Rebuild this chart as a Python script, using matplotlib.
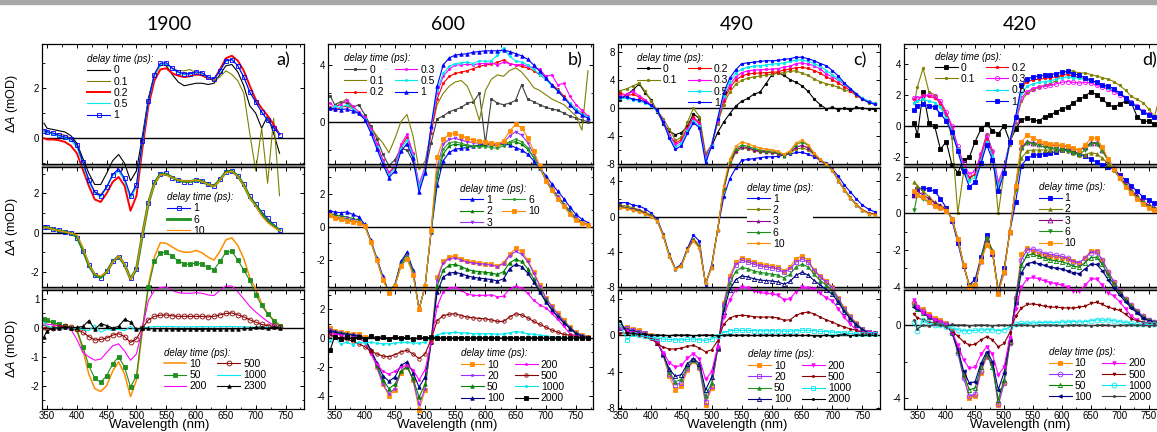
import matplotlib
matplotlib.use('Agg')
import matplotlib.pyplot as plt
from matplotlib.ticker import MultipleLocator
from matplotlib.patches import Rectangle
from matplotlib.lines import Line2D

plt.rcParams['font.family'] = ['Liberation Sans', 'DejaVu Sans']
plt.rcParams['mathtext.fontset'] = 'custom'
plt.rcParams['mathtext.rm'] = 'Liberation Sans'
plt.rcParams['mathtext.it'] = 'Liberation Sans:italic'
plt.rcParams['axes.unicode_minus'] = False

# wavelength grids (nm)
WL_A = [345] + list(range(350, 741, 10))
WL_B = [343] + list(range(350, 771, 10))
WL_C = [348] + list(range(360, 771, 10))
WL_D = [345] + list(range(350, 771, 10))

# ---- panel a (pump 1900) ----
a_0 = [0.6, 0.4, 0.35, 0.3, 0.25, 0.1, -0.2, -0.8, -1.4, -1.85,
       -1.85, -1.4, -0.9, -0.65, -1.0, -1.7, -1.3, 0.1, 1.6, 2.55,
       2.95, 2.9, 2.55, 2.25, 2.1, 2.15, 2.2, 2.2, 2.15, 2.2,
       2.55, 2.9, 2.95, 2.65, 2.1, 1.3, 1.0, 0.4, 0.9, 0.2,
       -0.6]
a_01 = [0.25, 0.22, 0.2, 0.18, 0.12, 0.0, -0.3, -1.0, -1.7, -2.15,
        -2.25, -1.95, -1.5, -1.3, -1.7, -2.4, -1.9, -0.1, 1.5, 2.5,
        2.9, 2.95, 2.8, 2.7, 2.7, 2.75, 2.6, 2.5, 2.4, 2.3,
        2.45, 2.7, 2.55, 2.3, 1.8, 0.2, -1.3, 0.4, -1.8, 0.8,
        -2.3]
a_02 = [0.0, -0.05, -0.05, -0.08, -0.15, -0.3, -0.6, -1.25, -1.9, -2.45,
        -2.55, -2.2, -1.75, -1.55, -1.9, -2.9, -2.3, -0.4, 1.3, 2.3,
        2.75, 2.8, 2.6, 2.5, 2.45, 2.48, 2.55, 2.52, 2.4, 2.35,
        2.75, 3.2, 3.3, 3.1, 2.7, 2.1, 1.55, 1.2, 0.9, 0.55,
        0.15]
a_05 = [0.25, 0.22, 0.15, 0.08, 0.02, -0.1, -0.35, -1.05, -1.75, -2.2,
        -2.35, -2.0, -1.5, -1.3, -1.7, -2.4, -1.95, -0.2, 1.45, 2.5,
        2.95, 2.98, 2.78, 2.62, 2.55, 2.56, 2.63, 2.6, 2.43, 2.36,
        2.68, 3.08, 3.13, 2.9, 2.45, 1.85, 1.45, 1.05, 0.72, 0.42,
        0.15]
a_1 = [0.3, 0.27, 0.2, 0.12, 0.05, -0.02, -0.25, -0.95, -1.65, -2.15,
       -2.3, -1.95, -1.45, -1.22, -1.6, -2.3, -1.85, -0.1, 1.5, 2.55,
       3.0, 3.02, 2.8, 2.65, 2.58, 2.58, 2.66, 2.62, 2.45, 2.38,
       2.7, 3.1, 3.15, 2.9, 2.45, 1.85, 1.45, 1.05, 0.72, 0.42,
       0.15]
a_6 = [0.28, 0.26, 0.18, 0.1, 0.04, -0.03, -0.2, -0.85, -1.65, -2.15,
       -2.28, -2.0, -1.48, -1.2, -1.62, -2.35, -1.85, -0.1, 1.5, 2.5,
       2.97, 2.97, 2.8, 2.66, 2.6, 2.6, 2.67, 2.61, 2.45, 2.37,
       2.68, 3.08, 3.13, 2.88, 2.42, 1.8, 1.4, 0.95, 0.6, 0.35,
       0.12]
a_10 = [0.27, 0.25, 0.17, 0.1, 0.04, -0.03, -0.1, -0.75, -1.6, -2.1,
        -2.2, -2.0, -1.5, -1.17, -1.6, -2.38, -1.8, -0.08, 1.5, 2.45,
        2.95, 2.93, 2.8, 2.68, 2.62, 2.62, 2.68, 2.6, 2.45, 2.35,
        2.65, 3.05, 3.12, 2.85, 2.4, 1.75, 1.35, 0.85, 0.5, 0.28,
        0.1]
a_50 = [0.3, 0.27, 0.2, 0.12, 0.05, 0.0, -0.05, -0.65, -1.3, -1.75,
        -1.88, -1.65, -1.25, -1.0, -1.35, -2.05, -1.65, 0.0, 1.4, 2.3,
        2.6, 2.62, 2.48, 2.32, 2.22, 2.2, 2.25, 2.2, 2.1, 2.02,
        2.3, 2.62, 2.65, 2.35, 2.0, 1.65, 1.15, 0.78, 0.48, 0.25,
        0.08]
a_200 = [0.15, 0.13, 0.1, 0.08, 0.03, -0.05, -0.4, -0.85, -1.0, -1.12,
         -1.08, -0.85, -0.62, -0.55, -0.8, -1.12, -0.9, 0.0, 0.95, 1.3,
         1.4, 1.42, 1.3, 1.22, 1.2, 1.2, 1.22, 1.2, 1.14, 1.12,
         1.3, 1.45, 1.45, 1.25, 1.0, 0.75, 0.55, 0.38, 0.22, 0.1,
         0.03]
a_500 = [0.02, 0.0, 0.0, 0.02, 0.05, 0.03, -0.05, -0.15, -0.3, -0.42,
         -0.4, -0.35, -0.25, -0.2, -0.3, -0.5, -0.38, 0.0, 0.28, 0.4,
         0.44, 0.45, 0.42, 0.4, 0.4, 0.4, 0.4, 0.4, 0.38, 0.4,
         0.45, 0.5, 0.52, 0.45, 0.38, 0.28, 0.2, 0.12, 0.08, 0.05,
         0.02]
a_1000 = [0.2, 0.05, 0.0, 0.0, 0.0, 0.0, -0.02, -0.05, -0.1, 0.1,
          -0.15, -0.05, -0.08, -0.05, -0.1, 0.05, -0.12, 0.0, 0.03, 0.05,
          0.05, 0.05, 0.05, 0.04, 0.04, 0.04, 0.04, 0.05, 0.04, 0.04,
          0.05, 0.05, 0.05, 0.04, 0.04, 0.03, 0.02, 0.02, 0.02, 0.02,
          0.02]
a_2300 = [-0.3, -0.1, 0.0, 0.0, 0.02, 0.0, 0.02, 0.05, 0.25, -0.05,
          0.15, 0.08, 0.0, 0.05, 0.3, 0.2, -0.05, 0.0, -0.02, -0.03,
          -0.03, -0.03, -0.04, -0.05, -0.05, -0.04, -0.05, -0.05, -0.04, -0.05,
          -0.04, -0.03, -0.04, -0.03, -0.02, -0.01, 0.02, 0.03, -0.02, 0.03,
          0.0]

# ---- panel b (pump 600) ----
b_0 = [1.8, 1.2, 1.4, 1.3, 1.0, 1.2, 0.5, -0.3, -1.2, -2.3,
       -3.1, -2.7, -1.9, -2.0, -2.8, -4.5, -3.6, -1.5, 0.2, 0.4,
       0.7, 0.85, 1.0, 1.3, 1.4, 2.0, -1.5, 1.6, 1.3, 1.2,
       1.3, 1.5, 2.6, 1.6, 1.4, 1.2, 1.0, 0.9, 0.8, 0.6,
       0.4, 0.25, 0.1, 0.0]
b_01 = [0.8, 1.0, 1.3, 1.6, 1.0, 0.5, 0.2, -0.4, -1.0, -1.5,
        -2.2, -1.2, 0.0, 0.5, -1.0, -3.4, -2.8, -0.7, 1.2, 2.0,
        2.5, 2.8, 2.9, 2.5, 1.5, 0.1, 2.2, 3.0, 3.3, 3.2,
        3.6, 3.8, 3.5, 3.0, 2.4, 2.2, 1.9, 1.6, 1.4, 1.2,
        0.8, 0.4, -0.6, 3.6]
b_02 = [1.0, 0.8, 1.0, 1.1, 0.9, 0.6, 0.3, -0.5, -1.6, -2.7,
        -3.6, -3.2, -1.8, -1.1, -2.3, -4.6, -3.5, -0.8, 1.6, 2.7,
        3.2, 3.4, 3.5, 3.6, 3.75, 3.9, 4.0, 4.05, 4.2, 4.35,
        4.1, 4.0, 3.9, 3.8, 3.6, 3.3, 3.0, 2.6, 2.3, 1.8,
        1.3, 0.9, 0.6, 0.35]
b_03 = [1.3, 1.0, 1.2, 1.5, 1.1, 0.7, 0.3, -0.5, -1.6, -2.7,
        -3.6, -3.1, -1.6, -0.9, -2.2, -4.4, -3.2, -0.5, 2.0, 3.2,
        3.7, 4.0, 4.0, 4.05, 4.0, 4.1, 4.1, 4.15, 4.0, 4.2,
        4.1, 4.0, 4.05, 3.9, 3.8, 3.7, 3.2, 3.3, 2.6, 2.7,
        1.8, 1.2, 0.8, 0.4]
b_05 = [0.9, 1.1, 1.0, 1.2, 0.9, 0.6, 0.2, -0.7, -1.8, -2.9,
        -3.8, -3.3, -1.9, -1.3, -2.4, -4.6, -3.4, -0.4, 2.2, 3.4,
        3.9, 4.1, 4.15, 4.2, 4.1, 4.3, 4.25, 4.3, 4.7, 5.2,
        4.6, 4.3, 4.2, 4.0, 3.7, 3.3, 3.0, 2.5, 2.2, 1.7,
        1.3, 0.9, 0.55, 0.35]
b_1 = [0.95, 0.9, 0.85, 0.9, 0.75, 0.6, 0.15, -0.8, -1.9, -3.0,
       -3.95, -3.5, -2.1, -1.55, -2.6, -5.0, -3.6, -0.3, 2.5, 4.0,
       4.5, 4.7, 4.75, 4.8, 4.9, 4.95, 5.0, 5.0, 5.0, 5.05,
       4.95, 4.8, 4.65, 4.4, 4.0, 3.55, 3.1, 2.6, 2.15, 1.7,
       1.2, 0.75, 0.45, 0.25]
b_2 = [0.8, 0.7, 0.65, 0.6, 0.5, 0.4, 0.1, -0.85, -1.95, -3.1,
       -3.95, -3.5, -2.2, -1.65, -2.7, -5.0, -3.6, -0.3, 3.0, 4.4,
       4.9, 5.0, 4.95, 4.9, 4.9, 4.9, 4.95, 4.95, 4.9, 5.0,
       5.1, 5.15, 5.0, 4.7, 4.2, 3.6, 2.9, 2.35, 1.85, 1.4,
       0.95, 0.55, 0.3, 0.15]
b_3 = [0.7, 0.6, 0.55, 0.5, 0.4, 0.3, 0.05, -0.9, -2.0, -3.1,
       -4.0, -3.6, -2.3, -1.8, -2.8, -5.0, -3.6, -0.25, 3.6, 5.0,
       5.3, 5.35, 5.25, 5.15, 5.1, 5.05, 5.05, 5.0, 4.95, 5.1,
       5.5, 5.75, 5.55, 5.1, 4.4, 3.6, 2.85, 2.3, 1.8, 1.3,
       0.85, 0.5, 0.25, 0.12]
b_6 = [0.65, 0.55, 0.5, 0.45, 0.35, 0.28, 0.05, -0.9, -2.0, -3.15,
       -4.0, -3.6, -2.35, -1.85, -2.85, -5.0, -3.6, -0.25, 3.2, 4.7,
       5.1, 5.15, 5.05, 4.95, 4.9, 4.85, 4.85, 4.8, 4.75, 4.9,
       5.15, 5.3, 5.15, 4.8, 4.2, 3.55, 2.8, 2.2, 1.7, 1.25,
       0.8, 0.45, 0.22, 0.1]
b_10 = [0.7, 0.5, 0.45, 0.35, 0.3, 0.25, 0.05, -0.9, -2.0, -3.2,
        -4.0, -3.6, -2.4, -1.95, -2.9, -5.0, -3.6, -0.2, 4.2, 5.3,
        5.6, 5.65, 5.5, 5.35, 5.25, 5.2, 5.15, 5.1, 5.0, 5.2,
        5.8, 6.2, 6.0, 5.4, 4.6, 3.7, 2.8, 2.2, 1.7, 1.25,
        0.75, 0.4, 0.2, 0.1]
b_20 = [0.6, 0.5, 0.4, 0.3, 0.25, 0.2, 0.0, -0.9, -2.0, -3.2,
        -3.85, -3.5, -2.3, -1.95, -2.9, -4.6, -3.5, -0.3, 4.0, 5.2,
        5.5, 5.55, 5.4, 5.25, 5.2, 5.15, 5.1, 5.05, 4.95, 5.15,
        5.7, 6.0, 5.8, 5.3, 4.5, 3.6, 2.8, 2.2, 1.65, 1.2,
        0.75, 0.4, 0.2, 0.1]
b_50 = [0.5, 0.45, 0.35, 0.3, 0.2, 0.15, -0.05, -0.85, -1.9, -2.9,
        -3.5, -3.2, -2.3, -2.0, -2.8, -4.1, -3.2, -0.3, 3.6, 4.7,
        5.05, 5.1, 4.95, 4.75, 4.65, 4.6, 4.55, 4.5, 4.4, 4.6,
        5.2, 5.45, 5.3, 4.8, 4.1, 3.3, 2.6, 2.0, 1.5, 1.1,
        0.7, 0.35, 0.15, 0.08]
b_100 = [0.5, 0.4, 0.3, 0.25, 0.2, 0.1, -0.1, -0.8, -1.7, -2.6,
         -3.0, -2.7, -1.9, -1.65, -2.4, -3.4, -2.7, -0.3, 3.2, 4.2,
         4.5, 4.55, 4.45, 4.3, 4.2, 4.15, 4.1, 4.05, 3.95, 4.1,
         4.8, 5.1, 4.95, 4.5, 3.9, 3.2, 2.5, 1.95, 1.45, 1.05,
         0.65, 0.3, 0.12, 0.05]
b_200 = [0.3, 0.3, 0.2, 0.1, 0.05, 0.0, -0.3, -1.1, -1.8, -2.3,
         -2.5, -2.3, -2.0, -1.9, -2.2, -2.9, -2.2, -0.3, 2.2, 3.2,
         3.45, 3.5, 3.3, 3.05, 2.95, 2.95, 2.95, 3.0, 2.85, 2.9,
         3.4, 3.6, 3.45, 3.1, 2.6, 2.3, 2.1, 1.7, 1.3, 0.8,
         0.3, 0.15, 0.08, 0.05]
b_500 = [0.2, 0.1, 0.0, -0.1, -0.2, -0.4, -0.6, -0.9, -1.1, -1.25,
         -1.3, -1.15, -0.96, -0.85, -1.1, -1.42, -1.1, -0.1, 1.2, 1.55,
         1.65, 1.68, 1.55, 1.45, 1.4, 1.35, 1.33, 1.25, 1.15, 1.15,
         1.45, 1.68, 1.6, 1.4, 1.15, 0.95, 0.75, 0.55, 0.4, 0.25,
         0.2, 0.08, 0.03, 0.0]
b_1000 = [-0.2, 0.1, -0.4, -0.3, -0.45, -0.3, -0.35, -0.3, -0.35, -0.4,
          -0.4, -0.35, -0.3, -0.3, -0.35, -0.35, -0.3, 0.0, 0.2, 0.35,
          0.35, 0.4, 0.35, 0.35, 0.3, 0.3, 0.3, 0.3, 0.25, 0.3,
          0.35, 0.45, 0.4, 0.3, 0.25, 0.2, 0.15, 0.1, 0.05, 0.02,
          0.0, 0.0, 0.0, 0.0]
b_2000 = [-0.8, 0.1, -0.1, 0.05, -0.05, 0.1, -0.1, 0.15, 0.0, 0.1,
          -0.05, 0.1, 0.0, 0.05, -0.1, 0.05, 0.0, 0.05, 0.0, 0.02,
          -0.02, 0.0, 0.03, -0.02, 0.0, 0.02, 0.0, 0.03, -0.02, 0.0,
          0.02, 0.0, -0.02, 0.0, 0.02, 0.0, 0.0, -0.02, 0.0, -0.03,
          -0.02, 0.0, 0.02, 0.0]

# ---- panel c (pump 490) ----
c_0 = [1.2, 2.0, 2.6, 3.5, 2.2, 1.2, -0.5, -2.2, -3.3, -3.8,
       -3.5, -2.6, -0.8, -1.5, -7.0, -5.5, -3.5, -2.0, -0.8, 0.3,
       1.0, 1.4, 2.0, 2.3, 3.5, 4.8, 5.1, 4.7, 4.1, 3.7,
       3.2, 2.4, 1.3, 0.5, -0.1, 0.1, -0.2, 0.0, -0.3, 0.1,
       0.0, -0.1, -0.2]
c_01 = [2.5, 2.8, 3.2, 3.6, 2.4, 1.0, -0.3, -1.5, -3.0, -4.6,
        -4.2, -2.0, 0.0, -1.2, -6.5, -5.3, -2.2, 0.5, 2.3, 3.4,
        4.0, 4.3, 4.5, 4.6, 4.75, 4.9, 5.0, 5.1, 5.3, 5.35,
        5.0, 4.7, 4.2, 3.8, 3.5, 3.3, 3.0, 2.6, 2.4, 1.8,
        1.3, 0.8, 0.6]
c_02 = [2.2, 1.8, 2.0, 1.6, 1.0, 0.4, -0.4, -2.0, -3.8, -5.0,
        -4.5, -2.8, -1.3, -2.1, -7.0, -5.2, -1.9, 1.0, 2.9, 4.0,
        4.6, 4.9, 5.0, 5.05, 5.1, 5.15, 5.2, 5.5, 5.6, 5.8,
        5.85, 5.7, 5.4, 5.0, 4.5, 4.1, 3.6, 3.1, 2.5, 1.9,
        1.3, 1.0, 0.7]
c_03 = [1.8, 2.0, 2.4, 1.8, 1.2, 0.5, -0.3, -1.8, -3.8, -5.2,
        -4.8, -3.0, -1.5, -2.3, -7.2, -5.3, -1.8, 1.4, 3.3, 4.5,
        5.1, 5.35, 5.45, 5.5, 5.55, 5.6, 5.65, 5.9, 6.0, 6.4,
        6.5, 6.3, 6.1, 5.6, 4.9, 4.5, 4.0, 3.4, 2.7, 2.0,
        1.4, 1.0, 0.7]
c_05 = [1.4, 1.4, 1.2, 1.0, 0.8, 0.3, -0.4, -2.0, -4.1, -5.6,
        -5.0, -3.3, -1.8, -2.6, -7.5, -5.3, -1.6, 1.8, 3.8, 5.0,
        5.6, 5.9, 6.0, 6.1, 6.2, 6.3, 6.4, 6.5, 6.7, 6.9,
        6.95, 6.7, 6.4, 6.0, 5.4, 4.8, 4.2, 3.5, 2.8, 2.1,
        1.4, 1.0, 0.7]
c_1 = [1.6, 1.6, 1.3, 1.2, 0.9, 0.4, -0.3, -2.0, -4.3, -5.9,
       -5.4, -3.6, -2.1, -2.8, -7.8, -5.5, -1.5, 2.2, 4.3, 5.5,
       6.4, 6.5, 6.6, 6.7, 6.8, 6.8, 6.85, 7.0, 7.1, 7.3,
       7.3, 7.1, 6.8, 6.4, 6.1, 5.4, 4.6, 3.6, 2.8, 2.0,
       1.3, 0.85, 0.55]
c_2 = [1.3, 1.2, 1.0, 0.8, 0.5, 0.15, -0.4, -2.1, -4.4, -5.9,
       -5.5, -3.7, -2.5, -3.3, -7.6, -5.7, -1.5, 3.0, 5.8, 7.3,
       7.8, 7.7, 7.5, 7.35, 7.3, 7.25, 7.15, 6.9, 7.2, 7.7,
       7.8, 7.6, 7.0, 6.4, 5.9, 5.3, 4.2, 3.1, 2.2, 1.4,
       0.8, 0.45, 0.3]
c_3 = [1.2, 1.0, 0.9, 0.7, 0.4, 0.1, -0.45, -2.15, -4.45, -5.95,
       -5.55, -3.75, -2.6, -3.45, -7.6, -5.75, -1.5, 3.2, 6.0, 7.5,
       7.95, 7.85, 7.6, 7.45, 7.4, 7.35, 7.2, 6.9, 7.3, 7.9,
       8.1, 7.8, 7.1, 6.4, 5.9, 5.3, 4.1, 3.0, 2.1, 1.35,
       0.75, 0.4, 0.25]
c_6 = [1.1, 0.95, 0.8, 0.6, 0.35, 0.05, -0.5, -2.2, -4.5, -6.0,
       -5.6, -3.8, -2.7, -3.5, -7.6, -5.8, -1.5, 3.3, 6.2, 7.7,
       8.15, 8.0, 7.75, 7.6, 7.5, 7.45, 7.3, 6.95, 7.4, 8.2,
       8.5, 8.1, 7.2, 6.5, 5.9, 5.3, 4.1, 3.0, 2.1, 1.3,
       0.7, 0.35, 0.2]
c_10 = [1.0, 0.9, 0.7, 0.55, 0.3, 0.0, -0.5, -2.2, -4.5, -6.0,
        -5.6, -3.8, -2.8, -3.6, -7.6, -5.8, -1.5, 3.5, 6.5, 8.0,
        8.5, 8.3, 8.0, 7.8, 7.7, 7.6, 7.45, 7.1, 7.5, 8.4,
        8.7, 8.2, 7.2, 6.5, 6.0, 5.3, 4.1, 3.0, 2.1, 1.3,
        0.7, 0.35, 0.2]
c_20 = [1.0, 0.8, 0.6, 0.4, 0.2, -0.1, -0.6, -2.2, -4.2, -5.45,
        -5.2, -3.6, -2.7, -3.5, -7.27, -5.6, -1.5, 3.3, 6.2, 7.7,
        8.2, 8.05, 7.8, 7.6, 7.5, 7.4, 7.25, 6.9, 7.3, 8.0,
        8.35, 8.0, 7.1, 6.4, 5.8, 5.2, 4.0, 2.9, 2.0, 1.25,
        0.7, 0.35, 0.2]
c_50 = [0.9, 0.7, 0.5, 0.35, 0.15, -0.15, -0.7, -2.2, -4.0, -5.1,
        -4.8, -3.4, -2.7, -3.4, -6.7, -5.2, -1.5, 3.0, 5.7, 7.0,
        7.45, 7.3, 7.05, 6.9, 6.8, 6.7, 6.6, 6.3, 6.7, 7.5,
        7.8, 7.5, 6.7, 6.0, 5.5, 4.9, 3.8, 2.8, 1.9, 1.2,
        0.65, 0.3, 0.2]
c_100 = [0.8, 0.6, 0.45, 0.3, 0.1, -0.2, -0.8, -2.1, -3.7, -4.5,
         -4.3, -3.1, -2.55, -3.1, -6.0, -4.6, -1.4, 2.6, 5.0, 6.1,
         6.5, 6.4, 6.2, 6.05, 6.0, 5.95, 5.85, 5.6, 5.9, 6.6,
         6.9, 6.6, 6.0, 5.5, 5.0, 4.5, 3.6, 2.6, 1.8, 1.1,
         0.6, 0.3, 0.2]
c_200 = [0.8, 0.5, 0.3, 0.1, -0.1, -0.3, -0.8, -1.9, -3.0, -3.46,
         -3.3, -2.5, -2.0, -2.6, -4.83, -4.0, -1.3, 2.0, 3.9, 5.0,
         5.3, 5.2, 4.9, 4.7, 4.6, 4.55, 4.4, 3.9, 4.0, 4.8,
         5.27, 5.2, 5.1, 4.6, 4.1, 3.8, 2.9, 1.97, 1.2, 0.6,
         0.3, 0.2, 0.1]
c_500 = [0.3, 0.2, 0.1, 0.0, -0.2, -0.4, -0.9, -1.3, -1.5, -1.5,
         -1.4, -1.2, -1.1, -1.4, -1.8, -1.6, -0.6, 1.2, 1.9, 2.15,
         2.2, 2.15, 2.05, 2.0, 2.0, 2.0, 1.9, 1.65, 1.7, 2.2,
         2.45, 2.55, 2.35, 2.0, 1.7, 1.45, 1.15, 0.9, 0.7, 0.55,
         0.3, 0.15, 0.1]
c_1000 = [1.2, -0.5, 0.1, 0.0, -0.1, -0.2, -0.3, -0.4, -0.45, -0.5,
          -0.5, -0.45, -0.4, -0.5, -0.55, -0.4, -0.1, 0.3, 0.5, 0.55,
          0.55, 0.55, 0.5, 0.5, 0.5, 0.5, 0.48, 0.45, 0.45, 0.5,
          0.55, 0.55, 0.5, 0.45, 0.4, 0.35, 0.3, 0.25, 0.2, 0.15,
          0.1, 0.1, 0.1]
c_2000 = [1.6, 0.3, 0.2, 0.1, 0.1, 0.0, 0.05, 0.0, -0.05, 0.05,
          0.0, 0.05, -0.05, 0.0, 0.05, 0.0, -0.05, 0.0, 0.05, 0.0,
          0.02, 0.0, -0.02, 0.0, 0.02, 0.0, -0.02, 0.0, 0.02, 0.0,
          -0.02, 0.0, -0.05, -0.1, 0.05, -0.1, 0.0, 0.1, -0.05, 0.05,
          0.0, 0.05, 0.0]

# ---- panel d (pump 420) ----
d_0 = [0.2, -0.6, 2.2, 0.2, 0.0, -1.5, -1.0, -2.5, -3.0, -2.2,
       -2.0, -1.0, -0.2, 0.1, -0.3, -0.5, 0.0, -1.0, -0.2, 0.4,
       0.5, 0.4, 0.3, 0.6, 0.7, 0.9, 1.1, 1.2, 1.5, 1.7,
       1.9, 2.2, 2.0, 1.7, 1.4, 1.2, 1.4, 1.6, 1.5, 0.6,
       0.3, 0.3, 0.1, 0.0]
d_01 = [1.5, 2.5, 3.7, 2.2, 2.0, 1.4, 0.6, -0.8, -5.6, -3.0,
        -3.4, -3.1, -1.8, -0.5, -1.6, -5.6, -3.0, -1.2, 0.2, 1.6,
        2.1, 2.3, 2.5, 2.6, 2.7, 2.9, 3.3, 3.6, 3.5, 3.4,
        3.4, 3.3, 3.2, 3.1, 3.0, 2.85, 2.6, 2.3, 1.9, 1.7,
        1.5, 1.1, 0.6, 2.0]
d_02 = [1.7, 1.6, 2.0, 1.9, 1.8, 1.5, 0.8, -0.1, -1.4, -2.6,
        -3.3, -3.1, -2.0, -0.8, -1.8, -3.8, -2.8, -1.0, 0.5, 2.5,
        2.85, 2.95, 3.0, 3.05, 3.1, 3.15, 3.25, 3.3, 3.2, 3.1,
        3.0, 2.9, 2.75, 2.6, 2.45, 2.3, 2.1, 1.85, 1.55, 1.25,
        0.95, 0.75, 0.6, 0.5]
d_03 = [1.8, 1.8, 1.9, 2.0, 1.9, 1.6, 0.9, 0.0, -1.3, -2.4,
        -3.1, -2.9, -1.8, -0.6, -1.6, -3.6, -2.6, -1.0, 0.3, 1.8,
        2.2, 2.4, 2.5, 2.55, 2.6, 2.7, 2.8, 2.85, 2.8, 2.75,
        2.8, 2.75, 2.6, 2.5, 2.35, 2.2, 2.0, 1.8, 1.55, 1.25,
        0.95, 0.75, 0.6, 0.5]
d_05 = [1.5, 1.6, 1.7, 1.6, 1.5, 1.2, 0.5, -0.3, -1.5, -2.7,
        -3.5, -3.3, -2.2, -1.0, -1.9, -3.9, -2.8, -1.0, 0.5, 2.1,
        2.55, 2.7, 2.8, 2.85, 2.9, 3.0, 3.1, 3.15, 3.1, 3.05,
        3.0, 2.9, 2.75, 2.6, 2.45, 2.3, 2.1, 1.85, 1.55, 1.25,
        0.95, 0.75, 0.6, 0.5]
d_1 = [1.0, 1.3, 1.4, 1.3, 1.2, 0.8, 0.3, -0.4, -1.6, -2.9,
       -3.9, -3.6, -2.4, -1.2, -2.2, -4.2, -3.0, -1.0, 0.6, 2.6,
       3.0, 3.15, 3.2, 3.25, 3.3, 3.35, 3.45, 3.5, 3.35, 3.25,
       3.1, 2.95, 2.8, 2.65, 2.55, 2.4, 2.1, 1.8, 1.5, 1.2,
       0.9, 0.7, 0.55, 0.45]
d_2 = [1.7, 1.5, 1.2, 0.9, 0.6, 0.45, 0.25, -0.3, -1.4, -2.8,
       -3.9, -3.8, -2.5, -1.3, -2.0, -4.2, -3.1, -1.0, 1.3, 3.0,
       3.4, 3.45, 3.45, 3.45, 3.45, 3.45, 3.45, 3.4, 3.3, 3.2,
       3.2, 3.3, 3.25, 3.0, 2.7, 2.35, 1.95, 1.55, 1.2, 0.9,
       0.6, 0.4, 0.3, 0.2]
d_3 = [1.0, 1.2, 1.0, 0.8, 0.55, 0.4, 0.2, -0.3, -1.4, -2.8,
       -4.0, -3.9, -2.6, -1.4, -2.1, -4.3, -3.2, -1.0, 1.5, 3.6,
       3.9, 3.85, 3.8, 3.75, 3.72, 3.7, 3.68, 3.62, 3.5, 3.45,
       3.6, 3.85, 3.85, 3.45, 2.9, 2.45, 2.0, 1.6, 1.25, 0.95,
       0.65, 0.45, 0.3, 0.22]
d_6 = [0.2, 1.0, 0.8, 0.6, 0.4, 0.3, 0.15, -0.3, -1.4, -2.8,
       -4.0, -3.9, -2.6, -1.4, -2.1, -4.3, -3.2, -1.0, 1.4, 3.5,
       3.85, 3.8, 3.7, 3.6, 3.55, 3.5, 3.48, 3.42, 3.3, 3.2,
       3.45, 3.8, 3.8, 3.4, 2.85, 2.35, 1.9, 1.5, 1.15, 0.85,
       0.55, 0.35, 0.22, 0.15]
d_10 = [1.2, 1.0, 0.9, 0.6, 0.4, 0.3, 0.15, -0.3, -1.4, -2.8,
        -4.0, -3.9, -2.6, -1.75, -2.1, -4.4, -3.2, -1.0, 1.5, 3.9,
        4.25, 4.1, 3.95, 3.85, 3.8, 3.75, 3.72, 3.65, 3.55, 3.45,
        3.7, 4.1, 4.1, 3.6, 2.95, 2.4, 1.9, 1.45, 1.1, 0.8,
        0.5, 0.3, 0.2, 0.15]
d_20 = [1.2, 1.0, 0.8, 0.5, 0.3, 0.2, 0.05, -0.4, -1.5, -2.9,
        -3.9, -3.8, -2.5, -1.7, -2.1, -4.35, -3.2, -1.0, 1.5, 3.6,
        4.15, 4.2, 4.1, 3.95, 3.9, 3.85, 3.8, 3.7, 3.5, 3.45,
        3.7, 4.0, 4.05, 3.6, 2.95, 2.4, 1.9, 1.45, 1.1, 0.8,
        0.5, 0.3, 0.2, 0.15]
d_50 = [1.1, 0.9, 0.7, 0.45, 0.3, 0.2, 0.0, -0.4, -1.4, -2.7,
        -3.55, -3.45, -2.3, -1.6, -2.3, -4.1, -3.0, -0.9, 1.4, 3.3,
        3.85, 3.92, 3.8, 3.7, 3.6, 3.55, 3.5, 3.4, 3.25, 3.2,
        3.45, 3.73, 3.75, 3.35, 2.75, 2.25, 1.8, 1.4, 1.05, 0.75,
        0.45, 0.28, 0.18, 0.12]
d_100 = [1.0, 0.9, 0.7, 0.45, 0.3, 0.15, 0.0, -0.4, -1.3, -2.5,
         -3.19, -3.1, -2.1, -1.45, -2.0, -3.55, -2.6, -0.8, 1.2, 2.9,
         3.4, 3.46, 3.4, 3.3, 3.2, 3.15, 3.1, 3.0, 2.9, 2.85,
         3.1, 3.37, 3.35, 3.0, 2.5, 2.05, 1.65, 1.3, 0.95, 0.7,
         0.4, 0.25, 0.15, 0.1]
d_200 = [1.4, 1.0, 0.7, 0.5, 0.3, 0.2, 0.0, -0.35, -1.1, -1.9,
         -2.37, -2.3, -1.6, -1.18, -1.6, -2.73, -2.3, -0.7, 0.9, 2.1,
         2.55, 2.64, 2.55, 2.45, 2.35, 2.3, 2.2, 2.1, 1.9, 1.9,
         2.2, 2.55, 2.55, 2.2, 1.8, 1.6, 1.3, 0.9, 0.5, 0.3,
         0.15, 0.1, 0.05, 0.05]
d_500 = [0.6, 0.4, 0.3, 0.2, 0.1, 0.05, -0.1, -0.3, -0.6, -0.9,
         -1.09, -1.05, -0.8, -0.63, -0.8, -1.18, -1.0, -0.4, 0.5, 0.95,
         1.15, 1.18, 1.12, 1.05, 1.0, 1.0, 0.97, 0.95, 0.95, 1.0,
         1.05, 1.2, 1.27, 1.15, 1.0, 0.9, 0.82, 0.6, 0.36, 0.25,
         0.18, 0.1, 0.05, 0.0]
d_1000 = [0.2, -0.3, 0.3, 0.1, 0.0, 0.0, -0.1, -0.15, -0.25, -0.3,
          -0.3, -0.28, -0.25, -0.25, -0.25, -0.3, -0.25, -0.1, 0.05, 0.1,
          0.12, 0.12, 0.15, 0.15, 0.15, 0.15, 0.18, 0.18, 0.2, 0.18,
          0.2, 0.25, 0.3, 0.28, 0.3, 0.25, 0.2, 0.15, 0.1, 0.05,
          0.05, 0.05, 0.05, 0.05]
d_2000 = [0.3, -0.2, 0.0, -0.05, 0.05, 0.0, -0.05, 0.05, 0.0, 0.03,
          -0.03, 0.0, 0.02, 0.0, -0.02, 0.0, 0.02, 0.0, 0.0, 0.02,
          0.0, -0.02, 0.0, 0.02, 0.0, 0.0, -0.02, 0.0, 0.02, 0.0,
          0.0, -0.02, 0.0, 0.02, 0.0, -0.02, 0.0, 0.0, 0.02, 0.0,
          0.0, -0.02, 0.0, 0.0]

TITLES = ['1900', '600', '490', '420']
LETTERS = ['a)', 'b)', 'c)', 'd)']

# colours
K, OL, RD, CY, BL = '#000000', '#808000', '#ff0000', '#00e8f0', '#0000ff'
GR, OR, MG, DR, NV = '#1f8f1f', '#ff8c00', '#ff00ff', '#8b0000', '#000080'
VI, PU, DG = '#9b30ff', '#8b008b', '#404040'


def st(c, m='None', ms=2.5, open_=False, lw=0.8):
    return dict(color=c, marker=m, ms=ms, mfc='none' if open_ else c,
                mec=c, mew=0.6, lw=lw)


W, H = 1157, 432
COLS_X = [(42, 304), (328, 593), (618, 880), (904, 1166)]
ROWS_Y = [(44, 164), (166.5, 287), (289.5, 408.5)]

panels = [
    dict(wl=WL_A, xlim=(341.5, 781), label_x=0.947, xlab=159,
         rows=[
             dict(ylim=(-1.03, 3.77), major=2, minor=1, leg=dict(anchor=(0.153, 0.96), ncol=1),
                  series=[('0', a_0, st(K)), ('0.1', a_01, st(OL)), ('0.2', a_02, st(RD, lw=1.4)),
                          ('0.5', a_05, st(CY)), ('1', a_1, st(BL, 's', 3, True))]),
             dict(ylim=(-2.76, 3.36), major=2, minor=1, leg=dict(anchor=(0.458, 0.83), ncol=1),
                  series=[('1', a_1, st(BL, 's', 3, True)), ('6', a_6, st(GR, lw=2)),
                          ('10', a_10, st(OR))]),
             dict(ylim=(-2.79, 1.33), major=1, minor=0.5, leg=dict(anchor=(0.444, 0.555), ncol=2),
                  series=[('10', a_10, st(OR, lw=1.1)), ('50', a_50, st(GR, 's', 2.5)),
                          ('200', a_200, st(MG)), ('500', a_500, st(DR, 'o', 3.5, True)),
                          ('1000', a_1000, st(CY)), ('2300', a_2300, st(K, '^', 2.5))]),
         ]),
    dict(wl=WL_B, xlim=(339.1, 778.3), label_x=0.962, xlab=447,
         rows=[
             dict(ylim=(-2.99, 5.48), major=4, minor=2, leg=dict(anchor=(0.039, 0.965), ncol=2),
                  series=[('0', b_0, st(DG, 's', 2)), ('0.1', b_01, st(OL)),
                          ('0.2', b_02, st(RD, '.', 3)), ('0.3', b_03, st(MG, '.', 3)),
                          ('0.5', b_05, st(CY, '.', 3)), ('1', b_1, st(BL, '^', 2.5))]),
             dict(ylim=(-3.65, 3.65), major=2, minor=1, leg=dict(anchor=(0.479, 0.9), ncol=2),
                  series=[('1', b_1, st(BL, '^', 2.5)), ('2', b_2, st('#008000', '^', 2)),
                          ('3', b_3, st(VI, 'v', 2)), ('6', b_6, st('#2e9b2e', '.', 3)),
                          ('10', b_10, st(OR, 's', 2.5))]),
             dict(ylim=(-4.88, 3.36), major=2, minor=1, leg=dict(anchor=(0.482, 0.55), ncol=2),
                  series=[('10', b_10, st(OR, 's', 2.5)), ('20', b_20, st(VI, '.', 3)),
                          ('50', b_50, st('#008000', '^', 2.5)), ('100', b_100, st(NV, '^', 2.5)),
                          ('200', b_200, st(MG, '.', 3)), ('500', b_500, st(DR, 'o', 2.5, True)),
                          ('1000', b_1000, st(CY, '.', 3)), ('2000', b_2000, st(K, 's', 2.5))]),
         ]),
    dict(wl=WL_C, xlim=(345, 779), label_x=0.95, xlab=737,
         rows=[
             dict(ylim=(-8.0, 9.2), major=4, minor=2, leg=dict(anchor=(0.052, 0.97), ncol=2, blanks=2),
                  series=[('0', c_0, st(K, '.', 3.5)), ('0.1', c_01, st(OL, '.', 3.5)),
                          ('0.2', c_02, st(RD, '.', 3.5)), ('0.3', c_03, st(MG, '.', 3.5)),
                          ('0.5', c_05, st(CY, '.', 3.5)), ('1', c_1, st(BL, '.', 3.5))]),
             dict(ylim=(-8.0, 5.7), major=4, minor=2, leg=dict(anchor=(0.472, 0.91), ncol=1, frame=True),
                  series=[('1', c_1, st(BL, '.', 3.5)), ('2', c_2, st(OL, '.', 3.5)),
                          ('3', c_3, st(PU, '^', 2)), ('6', c_6, st(GR, '^', 2)),
                          ('10', c_10, st(OR, '.', 3.5))]),
             dict(ylim=(-8.02, 5.02), major=4, minor=2, leg=dict(anchor=(0.476, 0.54), ncol=2),
                  series=[('10', c_10, st(OR, 's', 2.5)), ('20', c_20, st(VI, 's', 3, True)),
                          ('50', c_50, st(GR, '^', 2.5)), ('100', c_100, st(NV, '^', 3, True)),
                          ('200', c_200, st(MG, 'v', 2.5)), ('500', c_500, st(DR, '.', 3)),
                          ('1000', c_1000, st(CY, 's', 3, True)), ('2000', c_2000, st(K, '.', 3))]),
         ]),
    dict(wl=WL_D, xlim=(327.0, 780.0), label_x=0.966, xlab=1020,
         rows=[
             dict(ylim=(-2.44, 5.26), major=2, minor=1, leg=dict(anchor=(0.097, 0.98), ncol=2, blanks=2),
                  series=[('0', d_0, st(K, 's', 2.5)), ('0.1', d_01, st(OL, '.', 3.5)),
                          ('0.2', d_02, st(RD, '.', 3.5)), ('0.3', d_03, st(MG, 'o', 3, True)),
                          ('0.5', d_05, st(CY, '.', 3.5)), ('1', d_1, st(BL, 's', 2.5))]),
             dict(ylim=(-4.02, 2.55), major=2, minor=1, leg=dict(anchor=(0.494, 0.915), ncol=1),
                  series=[('1', d_1, st(BL, 's', 2.5)), ('2', d_2, st(OL, '^', 2.5)),
                          ('3', d_3, st(PU, '^', 3.5, True)), ('6', d_6, st(GR, 'v', 2.5)),
                          ('10', d_10, st(OR, 's', 2.5))]),
             dict(ylim=(-4.58, 1.97), major=4, minor=2, leg=dict(anchor=(0.532, 0.56), ncol=2),
                  series=[('10', d_10, st(OR, 's', 2.5)), ('20', d_20, st(VI, 'o', 3.5, True)),
                          ('50', d_50, st('#008000', '^', 3, True)), ('100', d_100, st(NV, '<', 2.5)),
                          ('200', d_200, st(MG, 'v', 2.5)), ('500', d_500, st(DR, 'v', 2)),
                          ('1000', d_1000, st(CY, 'o', 3.5, True)), ('2000', d_2000, st(DG, '.', 3))]),
         ]),
]


def box(x0, x1, y0, y1):
    return [x0 / W, 1 - y1 / H, (x1 - x0) / W, (y1 - y0) / H]


fig = plt.figure(figsize=(W / 100, H / 100), dpi=100)

# grey strip at the top of the image
fig.add_artist(Rectangle((0, 1 - 4 / H), 1, 4 / H, transform=fig.transFigure,
                         color='#a8a8a8', zorder=-2))

for ci, p in enumerate(panels):
    x0, x1 = COLS_X[ci]
    # grey separators between the stacked rows
    for s0, s1 in [(164, 166.5), (287, 289.5)]:
        fig.add_artist(Rectangle((x0 / W, 1 - s1 / H), (x1 - x0) / W, (s1 - s0) / H,
                                 transform=fig.transFigure, color='#8a8a8a', zorder=-1))
    for ri, row in enumerate(p['rows']):
        y0, y1 = ROWS_Y[ri]
        ax = fig.add_axes(box(x0, x1, y0, y1))
        ax.set_facecolor('none')
        ax.axhline(0, color='k', lw=1.0, zorder=1.5)
        for lab, vals, style in row['series']:
            ax.plot(p['wl'], vals, label=lab, clip_on=False, **style)
        ax.set_xlim(*p['xlim'])
        ax.set_ylim(*row['ylim'])
        ax.xaxis.set_major_locator(MultipleLocator(50))
        ax.xaxis.set_minor_locator(MultipleLocator(25))
        ax.yaxis.set_major_locator(MultipleLocator(row['major']))
        ax.yaxis.set_minor_locator(MultipleLocator(row['minor']))
        ax.tick_params(which='both', direction='in', top=True, right=True, labelsize=7, pad=2)
        ax.tick_params(which='major', length=3, width=0.7)
        ax.tick_params(which='minor', length=1.8, width=0.6)
        if ri < 2:
            ax.tick_params(labelbottom=False)
        for sp in ax.spines.values():
            sp.set_linewidth(0.9)

        lg = row['leg']
        h, l = ax.get_legend_handles_labels()
        if lg.get('blanks'):
            for _ in range(lg['blanks']):
                h.insert(2, Line2D([], [], alpha=0))
                l.insert(2, '')
        leg = ax.legend(h, l, loc='upper left', bbox_to_anchor=lg['anchor'], ncol=lg['ncol'],
                        title='delay time (ps):', fontsize=7.5,
                        title_fontproperties={'style': 'italic', 'size': 7},
                        frameon=lg.get('frame', False), borderpad=0.0, handlelength=2.2,
                        handletextpad=0.3, labelspacing=0.12, columnspacing=1.0,
                        alignment='left')
        if lg.get('frame'):
            leg.get_frame().set_facecolor('white')
            leg.get_frame().set_edgecolor('none')
            leg.get_frame().set_alpha(1)
        leg.set_zorder(5)

        if ri == 0:
            ax.text(p['label_x'], 0.86, LETTERS[ci], transform=ax.transAxes, ha='right',
                    va='center', fontsize=13, family=['Lato', 'DejaVu Sans'])
        if ci == 0:
            fig.text(12 / W, 1 - ((y0 + y1) / 2) / H, r'$\Delta\mathit{A}$ (mOD)',
                     rotation=90, ha='center', va='center', fontsize=9)

    fig.text(((x0 + x1) / 2 + [-4, -13, -12, -15][ci]) / W, 1 - 25 / H, TITLES[ci],
             ha='center', va='center', fontsize=14, family=['Lato', 'DejaVu Sans'])
    fig.text(p['xlab'] / W, 1 - 425 / H, 'Wavelength (nm)', ha='center', va='center',
             fontsize=9.5)

fig.savefig('out.png', dpi=100)
